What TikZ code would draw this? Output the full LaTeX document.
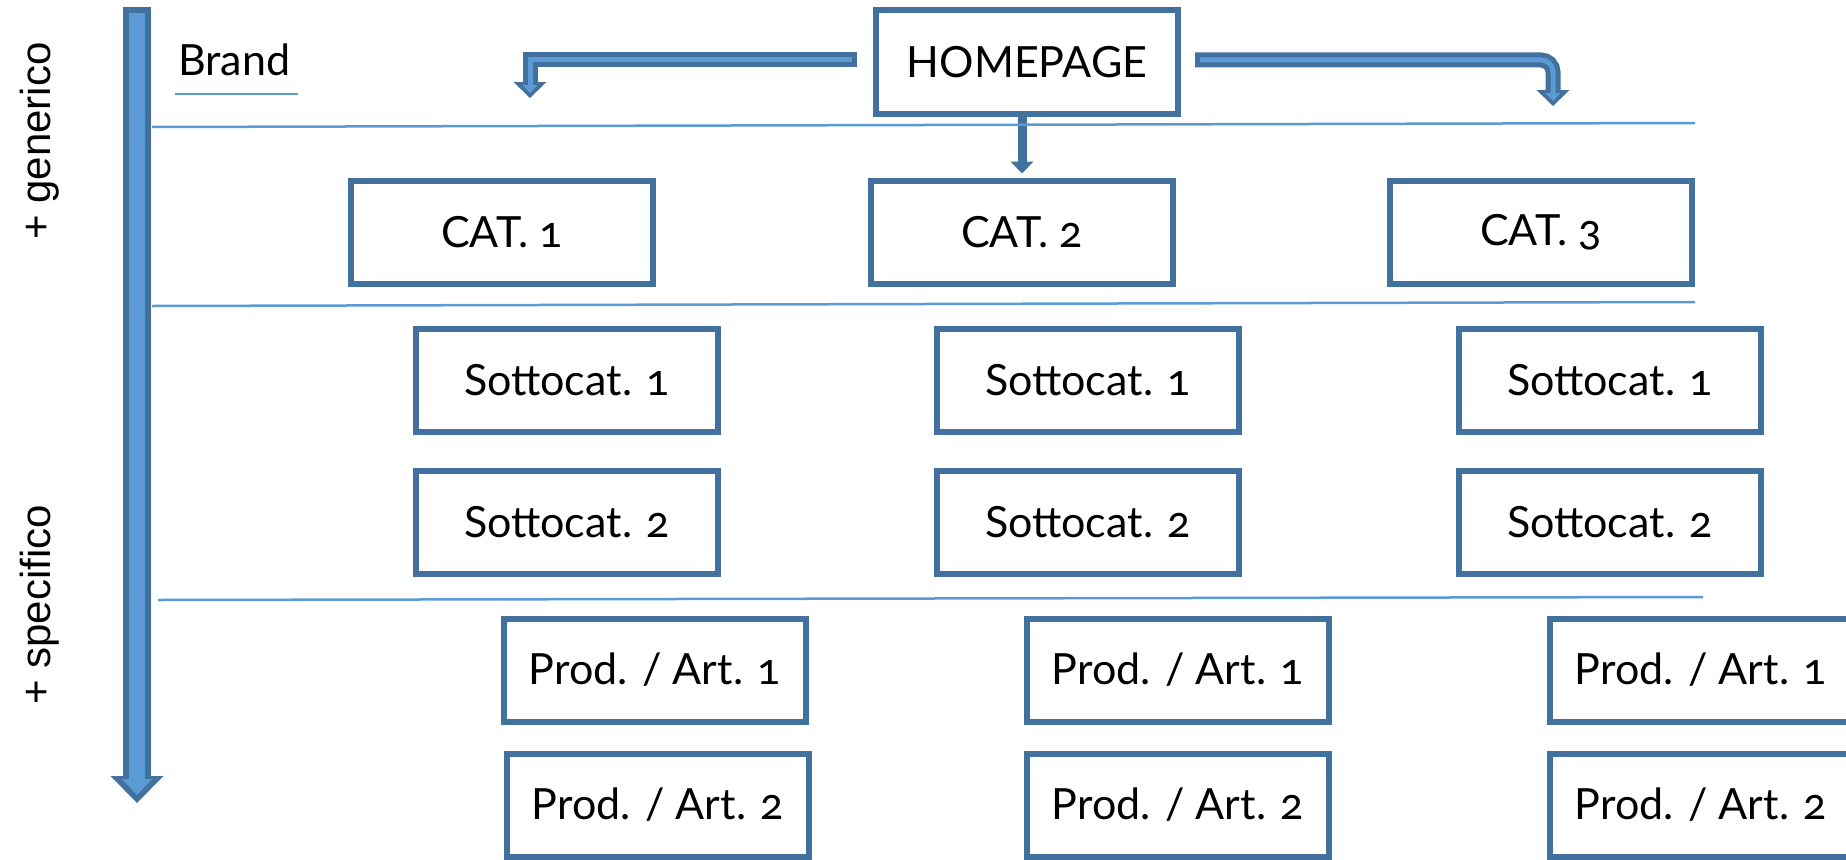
\documentclass[tikz,border=0pt]{standalone}
\usepackage{fontspec}
\setmainfont{Lato}[Numbers=OldStyle]
\newfontfamily\sidefont{Liberation Sans}
\usepackage{tikz}
\usetikzlibrary{positioning,arrows.meta}

\definecolor{pageblue}{HTML}{41719C}
\definecolor{fillblue}{HTML}{5B9BD5}

\tikzset{
  page/.style={draw=pageblue, line width=6pt, minimum width=302pt, minimum height=103pt,
    inner sep=0pt, font=\fontsize{43}{50}\selectfont},
  level/.style={draw=fillblue, line width=2.5pt},
  side/.style={font=\sidefont\fontsize{42}{50}\selectfont, rotate=90, anchor=base, inner sep=0pt},
  flow/.style={draw=fillblue, line width=5pt, shorten <=5pt, shorten >=5pt,
    -{Triangle[width=15pt,length=8pt,line width=0pt]},
    preaction={draw=pageblue, line width=15pt, shorten <=0pt, shorten >=0pt,
      -{Triangle[width=33pt,length=16pt,line width=0pt]}}},
  axis/.style={draw=fillblue, line width=16pt, shorten <=6pt, shorten >=8pt,
    -{Triangle[width=30pt,length=16pt,line width=0pt]},
    preaction={draw=pageblue, line width=28pt, shorten <=0pt, shorten >=0pt,
      -{Triangle[width=53pt,length=27pt,line width=0pt]}}}
}

\begin{document}
\begin{tikzpicture}[x=1pt,y=-1pt]
\useasboundingbox (0,0) rectangle (1846,859);

\node[page] (home) at (1027,62) {HOMEPAGE};

\node[page] (cat1) at (502,232) {CAT. 1};
\node[page] (cat2) at (1022,232) {CAT. 2};
\node[page] (cat3) at (1541,232) {CAT. 3};

\node[page] (sub11) at (567,380) {Sottocat. 1};
\node[page] (sub21) at (1088,380) {Sottocat. 1};
\node[page] (sub31) at (1610,380) {Sottocat. 1};
\node[page, below = 33pt of sub11] (sub12) {Sottocat. 2};
\node[page, below = 33pt of sub21] (sub22) {Sottocat. 2};
\node[page, below = 33pt of sub31] (sub32) {Sottocat. 2};

\node[page] (prod11) at (655,670) {Prod. / Art. 1};
\node[page] (prod21) at (1178,670) {Prod. / Art. 1};
\node[page] (prod31) at (1701,670) {Prod. / Art. 1};
\node[page, below = 26pt of prod11, xshift=3pt] (prod12) {Prod. / Art. 2};
\node[page, below = 26pt of prod21] (prod22) {Prod. / Art. 2};
\node[page, below = 26pt of prod31] (prod32) {Prod. / Art. 2};

\node[font=\fontsize{43}{50}\selectfont, anchor=base west, inner sep=0pt] (brand) at (178,75) {Brand};

\node[side] (generic) at (50,141) {+ generico};
\node[side] (specific) at (50,605) {+ specifico};

% Arrows
\coordinate (leftend) at (530,98);
\coordinate (rightend) at (1553,106);
\coordinate (axtop) at (137,7);
\coordinate (axend) at (137,803);

\draw[flow] ([xshift=-16pt,yshift=2pt]home.west) -| (leftend);
\draw[flow, rounded corners=12pt] ([xshift=14pt,yshift=2pt]home.east) -| (rightend);
\draw[pageblue, line width=9pt, shorten >=4pt, -{Triangle[width=23pt,length=12pt,line width=0pt]}]
  (home.south -| cat2.north) -- (cat2.north);
\draw[axis] (axtop) -- (axend);

% Levels
\draw[level] (175,94) -- (298,94);
\draw[level] (152,127) -- (1695,123);
\draw[level] (152,306) -- (1695,302);
\draw[level] (158,600) -- (1703,597);

\end{tikzpicture}
\end{document}
